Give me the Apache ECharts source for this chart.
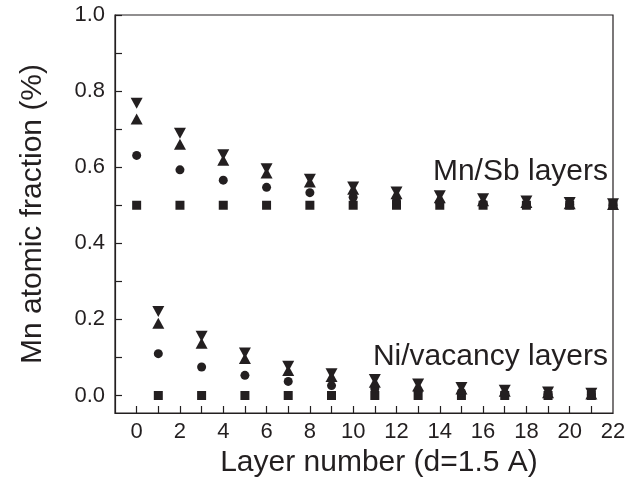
<!DOCTYPE html>
<html>
<head>
<meta charset="utf-8">
<script src="https://cdn.jsdelivr.net/npm/echarts@6/dist/echarts.min.js"></script>
<style>html,body{margin:0;padding:0;background:#fff;}#c{width:625px;height:479px;}</style>
</head>
<body>
<div id="c"></div>
<script>
// Layer positions
var layersMnSb = [0, 2, 4, 6, 8, 10, 12, 14, 16, 18, 20, 22];
var layersNi = [1, 3, 5, 7, 9, 11, 13, 15, 17, 19, 21];

// Mn/Sb layers (even layers)
var squareMnSb = [0.5, 0.5, 0.5, 0.5, 0.5, 0.5, 0.5, 0.5, 0.5, 0.5, 0.5, 0.5];
var circleMnSb = [0.631, 0.593, 0.566, 0.547, 0.533, 0.521, 0.512, 0.507, 0.504, 0.502, 0.501, 0.500];
var upMnSb = [0.727, 0.660, 0.618, 0.585, 0.561, 0.542, 0.530, 0.520, 0.512, 0.507, 0.504, 0.502];
var downMnSb = [0.768, 0.689, 0.633, 0.596, 0.568, 0.548, 0.535, 0.525, 0.517, 0.511, 0.507, 0.504];

// Ni/vacancy layers (odd layers)
var squareNi = [0, 0, 0, 0, 0, 0, 0, 0, 0, 0, 0];
var circleNi = [0.110, 0.075, 0.053, 0.037, 0.026, 0.018, 0.012, 0.008, 0.005, 0.003, 0.002];
var upNi = [0.190, 0.137, 0.097, 0.066, 0.050, 0.035, 0.025, 0.017, 0.011, 0.007, 0.004];
var downNi = [0.221, 0.156, 0.112, 0.077, 0.057, 0.042, 0.030, 0.021, 0.014, 0.009, 0.006];

// Axis ticks / labels
var xLabelValues = [0, 2, 4, 6, 8, 10, 12, 14, 16, 18, 20, 22];
var xTickValues = [0, 1, 2, 3, 4, 5, 6, 7, 8, 9, 10, 11, 12, 13, 14, 15, 16, 17, 18, 19, 20, 21];
var yLabelValues = [0, 0.2, 0.4, 0.6, 0.8, 1.0];
var yTickValues = [0, 0.1, 0.2, 0.3, 0.4, 0.5, 0.6, 0.7, 0.8, 0.9, 1.0];

var ink = '#231f20';
var font = 'Liberation Sans, Arial, Helvetica, sans-serif';

function pairs(xsA, ysA, xsB, ysB) {
  var out = [];
  for (var i = 0; i < xsA.length; i++) out.push([xsA[i], ysA[i]]);
  for (var j = 0; j < xsB.length; j++) out.push([xsB[j], ysB[j]]);
  return out;
}

var mark = {color: ink, opacity: 1};

var chart = echarts.init(document.getElementById('c'), null, {renderer: 'canvas'});
chart.setOption({
  animation: false,
  backgroundColor: '#fff',
  grid: {left: 115, right: 12, top: 15, bottom: 66, containLabel: false, outerBoundsMode: 'none',
    show: true, borderColor: ink, borderWidth: 1.2, backgroundColor: 'transparent'},
  xAxis: {
    type: 'value', min: -1, max: 22,
    name: 'Layer number (d=1.5 A)', nameLocation: 'middle', nameGap: 31,
    nameTextStyle: {fontSize: 30, color: ink, fontFamily: font, padding: [0, 0, 0, 30]},
    axisLine: {show: true, onZero: false, lineStyle: {color: ink, width: 1.2}},
    axisTick: {show: true, inside: true, length: 7, customValues: xTickValues, lineStyle: {color: ink, width: 1.2}},
    axisLabel: {fontSize: 22, color: ink, fontFamily: font, margin: 8, customValues: xLabelValues},
    splitLine: {show: false}
  },
  yAxis: {
    type: 'value', min: -0.046, max: 1.0,
    name: 'Mn atomic fraction (%)', nameLocation: 'middle', nameGap: 67,
    nameTextStyle: {fontSize: 30, color: ink, fontFamily: font},
    axisLine: {show: true, onZero: false, lineStyle: {color: ink, width: 1.2}},
    axisTick: {show: true, inside: true, length: 7, customValues: yTickValues, lineStyle: {color: ink, width: 1.2}},
    axisLabel: {fontSize: 22, color: ink, fontFamily: font, margin: 10, customValues: yLabelValues,
      formatter: function (v) { return v.toFixed(1); }},
    splitLine: {show: false}
  },
  series: [
    {type: 'scatter', symbol: 'rect', symbolSize: 9, itemStyle: mark,
     data: pairs(layersMnSb, squareMnSb, layersNi, squareNi)},
    {type: 'scatter', symbol: 'circle', symbolSize: 9, itemStyle: mark,
     data: pairs(layersMnSb, circleMnSb, layersNi, circleNi)},
    {type: 'scatter', symbol: 'triangle', symbolSize: [12, 11], itemStyle: mark,
     data: pairs(layersMnSb, upMnSb, layersNi, upNi)},
    {type: 'scatter', symbol: 'triangle', symbolRotate: 180, symbolSize: [12, 11], itemStyle: mark,
     data: pairs(layersMnSb, downMnSb, layersNi, downNi)}
  ],
  graphic: [
    {type: 'text', right: 17, top: 157, style: {text: 'Mn/Sb layers', font: '30px ' + font, fill: ink}},
    {type: 'text', right: 17, top: 342, style: {text: 'Ni/vacancy layers', font: '30px ' + font, fill: ink}}
  ]
});
</script>
</body>
</html>
